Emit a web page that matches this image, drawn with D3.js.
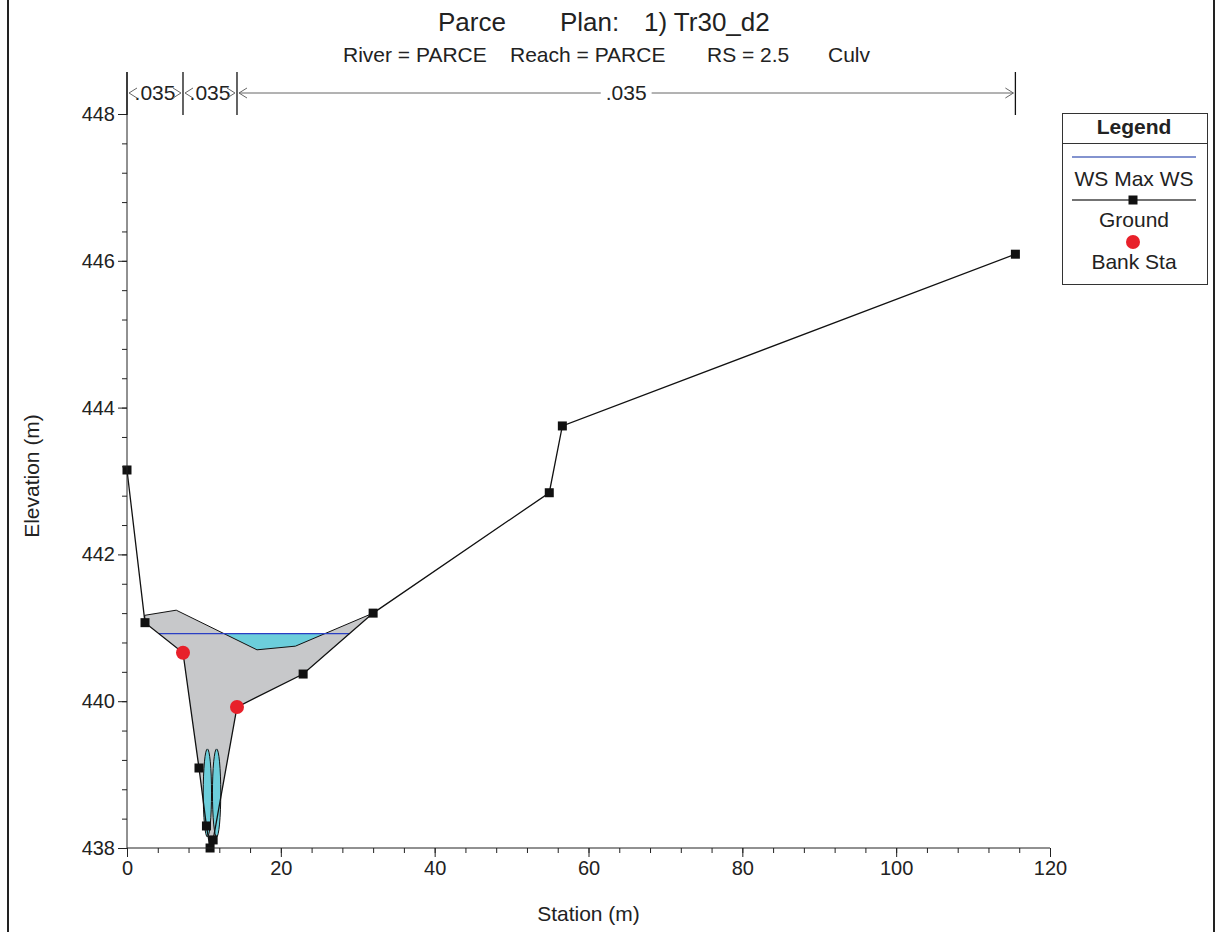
<!DOCTYPE html>
<html>
<head>
<meta charset="utf-8">
<script src="https://cdn.jsdelivr.net/npm/d3@7"></script>
<style>
  html, body { margin: 0; padding: 0; background: #fff; }
  svg { display: block; font-family: "Liberation Sans", Arial, Helvetica, sans-serif; }
  text { white-space: pre; }
</style>
</head>
<body>
<svg id="chart" width="1216" height="932"></svg>
<script>
// ---- Data ----
const titleParts = ["Parce", "Plan:", "1) Tr30_d2"];
const subtitleParts = ["River = PARCE", "Reach = PARCE", "RS = 2.5", "Culv"];
const xLabel = "Station (m)";
const yLabel = "Elevation (m)";

// Ground profile (station, elevation)
const groundStation = [0, 2.34, 7.28, 9.36, 10.33, 10.8, 11.2, 14.3, 22.9, 32.0, 54.9, 56.6, 115.5];
const groundElev    = [443.15, 441.07, 440.66, 439.09, 438.30, 438.0, 438.11, 439.92, 440.37, 441.20, 442.84, 443.75, 446.09];

// Bank stations
const bankStation = [7.28, 14.3];
const bankElev    = [440.66, 439.92];

// Water surface (Max WS)
const wsElev = 440.92;

// Culvert deck / embankment top chord
const deckStation = [2.3, 6.4, 16.9, 21.9, 32.0];
const deckElev    = [441.17, 441.24, 440.70, 440.75, 441.20];

// Culverts (two barrels)
const culvertStation  = [10.45, 11.65];
const culvertInvert   = [438.15, 438.15];
const culvertDiameter = [1.2, 1.2];

// Manning's n regions
const nBreaks = [0, 7.28, 14.3, 115.5];
const nValues = [".035", ".035", ".035"];

// Axis ticks
const xMajorTicks = [0, 20, 40, 60, 80, 100, 120];
const yMajorTicks = [438, 440, 442, 444, 446, 448];

// Legend entries
const legendLabels = ["WS Max WS", "Ground", "Bank Sta"];

// ---- Setup ----
const svg = d3.select("#chart");
const x = d3.scaleLinear().domain([0, 120]).range([127, 1050]);
const y = d3.scaleLinear().domain([438, 448]).range([848, 114]);

const ground = groundStation.map((s, i) => [s, groundElev[i]]);
const deck = deckStation.map((s, i) => [s, deckElev[i]]);

// Page borders
svg.append("line").attr("x1", 8).attr("x2", 8).attr("y1", 0).attr("y2", 932)
  .attr("stroke", "#222").attr("stroke-width", 2);
svg.append("line").attr("x1", 1214).attr("x2", 1214).attr("y1", 0).attr("y2", 932)
  .attr("stroke", "#222").attr("stroke-width", 2);

// Titles
const titleX = [438, 560, 644];
titleParts.forEach((t, i) => {
  svg.append("text").attr("x", titleX[i]).attr("y", 31)
    .attr("font-size", 26).attr("fill", "#222").text(t);
});
const subX = [343, 510, 707, 828];
subtitleParts.forEach((t, i) => {
  svg.append("text").attr("x", subX[i]).attr("y", 62)
    .attr("font-size", 21).attr("fill", "#222").text(t);
});

// ---- Water region (WS to ground) ----
function crossings(level) {
  const pts = [];
  for (let i = 0; i < ground.length - 1; i++) {
    const [s0, e0] = ground[i], [s1, e1] = ground[i + 1];
    if ((e0 - level) * (e1 - level) < 0) {
      const t = (level - e0) / (e1 - e0);
      pts.push(s0 + t * (s1 - s0));
    }
  }
  return pts;
}
const cr = crossings(wsElev);
const wsStart = cr[0], wsEnd = cr[cr.length - 1];
const waterPoly = [[wsStart, wsElev]]
  .concat(ground.filter(p => p[0] > wsStart && p[0] < wsEnd))
  .concat([[wsEnd, wsElev]]);
const line = d3.line().x(d => x(d[0])).y(d => y(d[1]));

svg.append("path").attr("d", line(waterPoly) + "Z")
  .attr("fill", "#6ccedb").attr("stroke", "none");

// ---- Embankment (deck to ground) ----
const gStart = deck[0][0], gEnd = deck[deck.length - 1][0];
const groundUnder = ground.filter(p => p[0] >= gStart - 0.1 && p[0] <= gEnd).slice().reverse();
const embPoly = deck.concat(groundUnder);
svg.append("path").attr("d", line(embPoly) + "Z")
  .attr("fill", "#c7c8ca").attr("stroke", "none");
svg.append("path").attr("d", line([ground[1]].concat(deck)))
  .attr("fill", "none").attr("stroke", "#111").attr("stroke-width", 1);

// ---- Culverts ----
culvertStation.forEach((s, i) => {
  const r = culvertDiameter[i] / 2;
  const cy = culvertInvert[i] + r;
  svg.append("ellipse")
    .attr("cx", x(s)).attr("cy", y(cy))
    .attr("rx", (x(r) - x(0)) * 0.9).attr("ry", y(0) - y(r))
    .attr("fill", "#6ccedb").attr("stroke", "#111").attr("stroke-width", 1);
});

// ---- WS line ----
svg.append("line").attr("x1", x(wsStart)).attr("x2", x(wsEnd))
  .attr("y1", y(wsElev)).attr("y2", y(wsElev))
  .attr("stroke", "#2a3fc4").attr("stroke-width", 1.3);

// ---- Ground line ----
svg.append("path").attr("d", line(ground))
  .attr("fill", "none").attr("stroke", "#111").attr("stroke-width", 1.3);
svg.selectAll("rect.gpt").data(ground).enter().append("rect").attr("class", "gpt")
  .attr("x", d => x(d[0]) - 4.5).attr("y", d => y(d[1]) - 4.5)
  .attr("width", 9).attr("height", 9).attr("fill", "#111");

// ---- Bank stations ----
svg.selectAll("circle.bank").data(bankStation).enter().append("circle").attr("class", "bank")
  .attr("cx", d => x(d)).attr("cy", (d, i) => y(bankElev[i])).attr("r", 7)
  .attr("fill", "#e8202a");

// ---- Axes ----
const axisColor = "#222";
svg.append("line").attr("x1", x(0)).attr("x2", x(0)).attr("y1", 72).attr("y2", y(438))
  .attr("stroke", axisColor).attr("stroke-width", 1);
const yMinor = d3.range(0, 26).map(i => 438 + i * 0.4).filter(v => v <= 448.001);
const yAxisMinor = d3.axisLeft(y).tickValues(yMinor).tickSize(5).tickFormat("");
const yAxisMajor = d3.axisLeft(y).tickValues(yMajorTicks).tickSize(9).tickPadding(3).tickFormat(d3.format("d"));
const gyMin = svg.append("g").attr("transform", `translate(${x(0)},0)`).call(yAxisMinor);
const gyMaj = svg.append("g").attr("transform", `translate(${x(0)},0)`).call(yAxisMajor);
[gyMin, gyMaj].forEach(g => {
  g.select(".domain").remove();
  g.selectAll("line").attr("stroke", axisColor);
  g.selectAll("text").attr("font-size", 20).attr("fill", "#222")
    .attr("font-family", "'Liberation Sans', Arial, sans-serif");
});

svg.append("line").attr("x1", x(0)).attr("x2", x(120)).attr("y1", y(438)).attr("y2", y(438))
  .attr("stroke", axisColor).attr("stroke-width", 1);
const xMinor = d3.range(0, 31).map(i => i * 4);
const xAxisMinor = d3.axisBottom(x).tickValues(xMinor).tickSize(5).tickFormat("");
const xAxisMajor = d3.axisBottom(x).tickValues(xMajorTicks).tickSize(9).tickPadding(4).tickFormat(d3.format("d"));
const gxMin = svg.append("g").attr("transform", `translate(0,${y(438)})`).call(xAxisMinor);
const gxMaj = svg.append("g").attr("transform", `translate(0,${y(438)})`).call(xAxisMajor);
[gxMin, gxMaj].forEach(g => {
  g.select(".domain").remove();
  g.selectAll("line").attr("stroke", axisColor);
  g.selectAll("text").attr("font-size", 20).attr("fill", "#222")
    .attr("font-family", "'Liberation Sans', Arial, sans-serif");
});

// Axis labels
svg.append("text").attr("x", x(60)).attr("y", 921).attr("text-anchor", "middle")
  .attr("font-size", 21).attr("fill", "#222").text(xLabel);
svg.append("text").attr("transform", `translate(39,476) rotate(-90)`).attr("text-anchor", "middle")
  .attr("font-size", 21).attr("fill", "#222").text(yLabel);

// ---- Manning's n annotation ----
const nTop = 72, nBot = 115, nY = 93;
const ng = svg.append("g");
nBreaks.forEach(s => {
  ng.append("line").attr("x1", x(s)).attr("x2", x(s)).attr("y1", nTop).attr("y2", nBot)
    .attr("stroke", "#111").attr("stroke-width", 1.3);
});
const arrowColor = "#666";
function chevron(xTip, dir) {
  const len = 8, h = 5;
  ng.append("path")
    .attr("d", `M${xTip - dir * len},${nY - h} L${xTip},${nY} L${xTip - dir * len},${nY + h}`)
    .attr("fill", "none").attr("stroke", arrowColor).attr("stroke-width", 1);
}
nValues.forEach((v, i) => {
  const x0 = x(nBreaks[i]) + 2, x1 = x(nBreaks[i + 1]) - 2;
  const xm = (x0 + x1) / 2;
  const t = ng.append("text").attr("x", xm).attr("y", nY + 7).attr("text-anchor", "middle")
    .attr("font-size", 21).attr("fill", "#222").text(v);
  const w = t.node().getComputedTextLength();
  const gapL = xm - w / 2 - 5, gapR = xm + w / 2 + 5;
  if (gapL > x0 + 2) {
    ng.append("line").attr("x1", x0).attr("x2", gapL).attr("y1", nY).attr("y2", nY)
      .attr("stroke", arrowColor).attr("stroke-width", 1);
  }
  if (gapR < x1 - 2) {
    ng.append("line").attr("x1", gapR).attr("x2", x1).attr("y1", nY).attr("y2", nY)
      .attr("stroke", arrowColor).attr("stroke-width", 1);
  }
  chevron(x0, -1);
  chevron(x1, 1);
});

// ---- Legend ----
const lg = svg.append("g");
lg.append("rect").attr("x", 1062.5).attr("y", 113.5).attr("width", 145).attr("height", 171)
  .attr("fill", "#fff").attr("stroke", "#333").attr("stroke-width", 1);
lg.append("line").attr("x1", 1062.5).attr("x2", 1207.5).attr("y1", 143.5).attr("y2", 143.5)
  .attr("stroke", "#333").attr("stroke-width", 1);
lg.append("text").attr("x", 1134).attr("y", 134).attr("text-anchor", "middle")
  .attr("font-size", 21).attr("font-weight", "bold").attr("fill", "#222").text("Legend");
lg.append("line").attr("x1", 1072).attr("x2", 1196).attr("y1", 157).attr("y2", 157)
  .attr("stroke", "#5a6fbf").attr("stroke-width", 1.3);
lg.append("text").attr("x", 1134).attr("y", 186).attr("text-anchor", "middle")
  .attr("font-size", 21).attr("fill", "#222").text(legendLabels[0]);
lg.append("line").attr("x1", 1072).attr("x2", 1196).attr("y1", 200).attr("y2", 200)
  .attr("stroke", "#444").attr("stroke-width", 1.3);
lg.append("rect").attr("x", 1128.5).attr("y", 195.5).attr("width", 9).attr("height", 9).attr("fill", "#111");
lg.append("text").attr("x", 1134).attr("y", 227).attr("text-anchor", "middle")
  .attr("font-size", 21).attr("fill", "#222").text(legendLabels[1]);
lg.append("circle").attr("cx", 1133).attr("cy", 242).attr("r", 7).attr("fill", "#e8202a");
lg.append("text").attr("x", 1134).attr("y", 269).attr("text-anchor", "middle")
  .attr("font-size", 21).attr("fill", "#222").text(legendLabels[2]);
</script>
</body>
</html>
